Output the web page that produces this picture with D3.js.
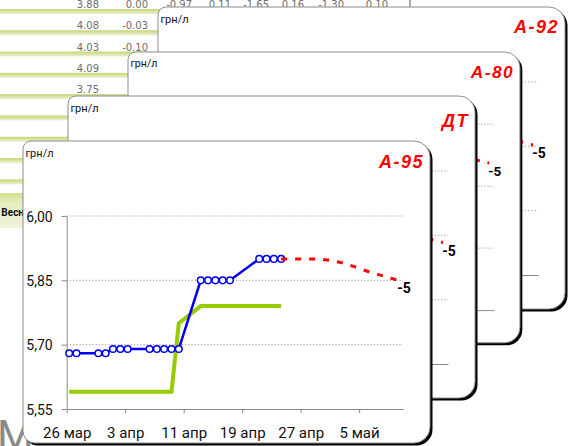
<!DOCTYPE html>
<html>
<head>
<meta charset="utf-8">
<script src="https://cdn.jsdelivr.net/npm/d3@7"></script>
<style>
body { margin: 0; background: #fff; overflow: hidden; }
text { font-family: Roboto, "Liberation Sans", sans-serif; }
</style>
</head>
<body>
<script>
var W = 573, H = 446;

// spreadsheet lying behind the cards
var sheetRows = [
    ["3.88", "0.00", "-0.97", "0.11", "-1.65", "0.16", "-1.30", "0.10"],
    ["4.08", "-0.03"],
    ["4.03", "-0.10"],
    ["4.09"],
    ["3.75", "-"]
];
var sheetFooter = "Весн";

// cards, back to front
var fuels = ["А-92", "А-80", "ДТ", "А-95"];

// A-95: blue line with markers
var a95Dates = ["2009-03-26", "2009-03-27", "2009-03-30", "2009-03-31", "2009-04-01", "2009-04-02",
    "2009-04-03", "2009-04-06", "2009-04-07", "2009-04-08", "2009-04-09", "2009-04-10",
    "2009-04-13", "2009-04-14", "2009-04-15", "2009-04-16", "2009-04-17",
    "2009-04-21", "2009-04-22", "2009-04-23", "2009-04-24"];
var a95Prices = [5.68, 5.68, 5.68, 5.68, 5.69, 5.69,
    5.69, 5.69, 5.69, 5.69, 5.69, 5.69,
    5.85, 5.85, 5.85, 5.85, 5.85,
    5.90, 5.90, 5.90, 5.90];

// A-95: green line
var greenDates = ["2009-03-26", "2009-04-09", "2009-04-10", "2009-04-13", "2009-04-24"];
var greenPrices = [5.59, 5.59, 5.75, 5.79, 5.79];

// A-95: red dashed forecast
var forecastDates = ["2009-04-24", "2009-04-28", "2009-04-30", "2009-05-02", "2009-05-04",
    "2009-05-06", "2009-05-08", "2009-05-10"];
var forecastPrices = [5.90, 5.90, 5.898, 5.892, 5.882, 5.870, 5.860, 5.850];
var forecastLabel = "-5";

// visible ends of the forecasts on the back cards
var a92TailDates = ["2009-05-06", "2009-05-08", "2009-05-10"];
var a92TailPrices = [5.872, 5.863, 5.853];
var a80TailDates = ["2009-05-06", "2009-05-08", "2009-05-10"];
var a80TailPrices = [5.921, 5.914, 5.906];
var dtTailDates = ["2009-05-06", "2009-05-08", "2009-05-10"];
var dtTailPrices = [5.850, 5.842, 5.833];

var yTicks = [5.55, 5.70, 5.85, 6.00];
var yTickLabels = ["5,55", "5,70", "5,85", "6,00"];
var xTickDates = ["2009-03-26", "2009-04-03", "2009-04-11", "2009-04-19", "2009-04-27", "2009-05-05"];
var xTickLabels = ["26 мар", "3 апр", "11 апр", "19 апр", "27 апр", "5 май"];

// card placement
var cardLayout = [
    {x: 158, y: 7, s: 1, titleY: 26},
    {x: 128, y: 52, s: 0.963, titleY: 27},
    {x: 68, y: 96, s: 1, titleY: 31},
    {x: 23, y: 141, s: 1, titleY: 27}
];
var CW = 407, CH = 302;

var dayStart = function (s) { return new Date(s + "T00:00:00Z"); };
var reading = function (s) { return new Date(s + "T08:00:00Z"); };

var x = d3.scaleUtc()
    .domain([dayStart("2009-03-26"), dayStart("2009-05-11")])
    .range([43.7, 380]);
var y = d3.scaleLinear()
    .domain([5.55, 6.00])
    .range([268, 75]);

var svg = d3.select("body").append("svg")
    .attr("width", W)
    .attr("height", H);

var defs = svg.append("defs");
var band = defs.append("linearGradient").attr("id", "band")
    .attr("x1", 0).attr("x2", 0).attr("y1", 0).attr("y2", 1);
band.append("stop").attr("offset", "0%").attr("stop-color", "#c2d573");
band.append("stop").attr("offset", "100%").attr("stop-color", "#eef4d6");
var foot = defs.append("linearGradient").attr("id", "foot")
    .attr("x1", 0).attr("x2", 0).attr("y1", 0).attr("y2", 1);
foot.append("stop").attr("offset", "0%").attr("stop-color", "#d2e08f");
foot.append("stop").attr("offset", "30%").attr("stop-color", "#e6eec4");
foot.append("stop").attr("offset", "100%").attr("stop-color", "#eef3d8");

// ---- spreadsheet
var sheet = svg.append("g");
var rowH = 21.3;
d3.range(9).forEach(function (i) {
    sheet.append("rect")
        .attr("x", 0).attr("y", -9 + i * rowH + 18)
        .attr("width", 410).attr("height", 5)
        .attr("fill", "url(#band)");
});
sheet.append("rect")
    .attr("x", 0).attr("y", 193)
    .attr("width", 410).attr("height", 35)
    .attr("fill", "url(#foot)");
sheet.append("text")
    .attr("x", 24).attr("y", 216)
    .attr("text-anchor", "end")
    .attr("font-size", 10).attr("font-weight", "bold")
    .attr("fill", "#111")
    .text(sheetFooter);

var colRight = [99, 148, 192, 231, 269, 304, 344, 388];
sheetRows.forEach(function (row, i) {
    sheet.selectAll(null)
        .data(row)
        .enter().append("text")
        .attr("x", function (d, j) { return colRight[j]; })
        .attr("y", -9 + i * rowH + 17)
        .attr("text-anchor", "end")
        .attr("font-size", 10)
        .attr("fill", "#6e6e6e")
        .style("font-family", "'DejaVu Sans', sans-serif")
        .text(function (d) { return d; });
});
sheet.append("line")
    .attr("x1", 410).attr("x2", 410).attr("y1", 0).attr("y2", 8)
    .attr("stroke", "#555");

// big grey letter peeking out at the bottom left
svg.append("text")
    .attr("x", -3).attr("y", 450)
    .attr("font-size", 42)
    .attr("fill", "#8a8a8a")
    .text("М");

function cardPath(w, h) {
    var tl = 8, tr = 16, br = 16, bl = 12;
    return "M" + tl + ",0H" + (w - tr) +
        "A" + tr + "," + tr + " 0 0 1 " + w + "," + tr +
        "V" + (h - br) +
        "A" + br + "," + br + " 0 0 1 " + (w - br) + "," + h +
        "H" + bl +
        "A" + bl + "," + bl + " 0 0 1 0," + (h - bl) +
        "V" + tl +
        "A" + tl + "," + tl + " 0 0 1 " + tl + ",0Z";
}

var line = d3.line()
    .x(function (d) { return x(d.date); })
    .y(function (d) { return y(d.price); });

function pairs(dates, prices) {
    return dates.map(function (d, i) { return {date: reading(d), price: prices[i]}; });
}

function drawCard(i, tail) {
    var c = cardLayout[i];
    var g = svg.append("g")
        .attr("transform", "translate(" + c.x + "," + c.y + ") scale(" + c.s + ")");

    g.append("path").attr("d", cardPath(CW, CH))
        .attr("transform", "translate(2.5,2.5)")
        .attr("fill", "#000");
    g.append("path").attr("d", cardPath(CW, CH))
        .attr("fill", "#fff")
        .attr("stroke", "#8c8c8c")
        .attr("stroke-width", 1);

    g.append("text")
        .attr("x", 2.5).attr("y", 16)
        .attr("font-size", 11)
        .attr("fill", "#111")
        .text("грн/л");

    g.append("text")
        .attr("x", 401).attr("y", c.titleY)
        .attr("text-anchor", "end")
        .attr("font-size", 18)
        .attr("font-weight", "bold")
        .attr("font-style", "italic")
        .attr("letter-spacing", 1.5)
        .attr("fill", "#ff0000")
        .style("font-family", "'Liberation Sans', Arial, sans-serif")
        .text(fuels[i]);

    // dotted gridlines
    g.selectAll(null)
        .data(yTicks.filter(function (d) { return d > y.domain()[0]; }))
        .enter().append("line")
        .attr("x1", x.range()[0]).attr("x2", x.range()[1])
        .attr("y1", function (d) { return y(d); })
        .attr("y2", function (d) { return y(d); })
        .attr("stroke", "#999")
        .attr("stroke-dasharray", "1.2,2");

    var yAxis = g.append("g")
        .attr("transform", "translate(" + x.range()[0] + ",0)")
        .call(d3.axisLeft(y)
            .tickValues(yTicks)
            .tickFormat(function (d, k) { return yTickLabels[k]; })
            .tickSize(5).tickSizeOuter(0).tickPadding(9));
    yAxis.selectAll("path, line").attr("stroke", "#888");
    yAxis.selectAll("text")
        .attr("font-size", 14).attr("fill", "#111")
        .attr("font-family", null)
        .attr("dy", "0.36em");

    var xAxis = g.append("g")
        .attr("transform", "translate(0," + y.range()[0] + ")")
        .call(d3.axisBottom(x)
            .tickValues(xTickDates.map(dayStart))
            .tickFormat(function (d, k) { return xTickLabels[k]; })
            .tickSize(4).tickSizeOuter(0));
    xAxis.selectAll("path, line").attr("stroke", "#888");
    xAxis.selectAll("text")
        .attr("font-size", 15).attr("fill", "#111")
        .attr("font-family", null)
        .attr("y", 29).attr("dy", 0);

    var fc = pairs(tail.dates, tail.prices);
    if (tail.full) {
        g.append("path")
            .datum(pairs(greenDates, greenPrices))
            .attr("d", line)
            .attr("fill", "none")
            .attr("stroke", "#99cc00")
            .attr("stroke-width", 4);
        var blue = pairs(a95Dates, a95Prices);
        g.append("path")
            .datum(blue)
            .attr("d", line)
            .attr("fill", "none")
            .attr("stroke", "#0000ee")
            .attr("stroke-width", 2.5);
        g.selectAll(null)
            .data(blue)
            .enter().append("circle")
            .attr("cx", function (d) { return x(d.date); })
            .attr("cy", function (d) { return y(d.price); })
            .attr("r", 3.3)
            .attr("fill", "#fff")
            .attr("stroke", "#0000ee")
            .attr("stroke-width", 1.5);
    }
    g.append("path")
        .datum(fc)
        .attr("d", line.curve(d3.curveMonotoneX))
        .attr("fill", "none")
        .attr("stroke", "#ff0000")
        .attr("stroke-width", 3)
        .attr("stroke-dasharray", "6,8");
    line.curve(d3.curveLinear);

    var last = fc[fc.length - 1];
    g.append("text")
        .attr("x", x(last.date) - 1)
        .attr("y", y(last.price) + 13)
        .attr("font-size", 14)
        .attr("font-weight", "bold")
        .attr("fill", "#000")
        .text(forecastLabel);
}

drawCard(0, {dates: a92TailDates, prices: a92TailPrices});
drawCard(1, {dates: a80TailDates, prices: a80TailPrices});
drawCard(2, {dates: dtTailDates, prices: dtTailPrices});
drawCard(3, {dates: forecastDates, prices: forecastPrices, full: true});
</script>
</body>
</html>
